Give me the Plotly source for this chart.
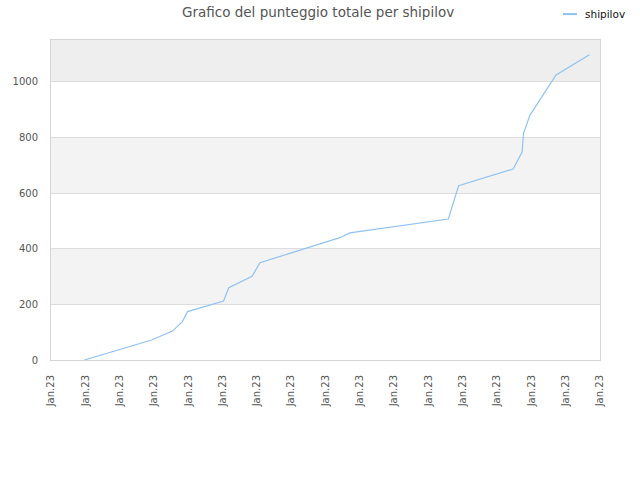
import plotly.graph_objects as go

# positions along the time axis (in tick steps) and total score
x_pos = [0.97, 2.93, 3.54, 3.83, 3.98, 5.03, 5.18, 5.86, 6.09, 8.42, 8.71,
         10.17, 11.58, 11.88, 13.47, 13.73, 13.77, 13.96, 14.72, 15.69]
scores = [0, 72, 104, 138, 174, 212, 260, 301, 350, 440, 457,
          482, 507, 627, 687, 748, 815, 881, 1025, 1098]

tick_pos = list(range(17))
tick_text = ["Jan.23"] * 17
y_ticks = [0, 200, 400, 600, 800, 1000]

line_color = "#90c2f0"

fig = go.Figure(go.Scatter(
    x=x_pos, y=scores, mode="lines", name="shipilov", showlegend=False,
    line=dict(color=line_color, width=1.2),
))

# alternating horizontal bands
bands = [(200, 400, "#f3f3f3"), (600, 800, "#f3f3f3"), (1000, 1160, "#eeeeee")]
for y0, y1, col in bands:
    fig.add_shape(type="rect", xref="paper", yref="y", x0=0, x1=1, y0=y0, y1=y1,
                  fillcolor=col, line_width=0, layer="below")

# small legend in the top right corner
fig.add_shape(type="line", xref="paper", yref="paper", x0=0.9326, x1=0.958,
              y0=1.081, y1=1.081, line=dict(color=line_color, width=2))
fig.add_annotation(text="shipilov", xref="paper", yref="paper", x=0.969, y=1.081,
                   xanchor="left", yanchor="middle", showarrow=False,
                   font=dict(size=10.5, color="#111111"))

fig.update_layout(
    width=640, height=480,
    margin=dict(l=51, r=40, t=40, b=120, autoexpand=False),
    paper_bgcolor="white", plot_bgcolor="white",
    font=dict(family="DejaVu Sans", size=10, color="#555555"),
    title=dict(text="Grafico del punteggio totale per shipilov", x=0.497, y=0.974,
               xanchor="center", yanchor="middle",
               font=dict(size=13.5, color="#555555")),
)
fig.update_xaxes(range=[0, 16], tickmode="array", tickvals=tick_pos, ticktext=tick_text,
                 tickangle=-90, showgrid=False, zeroline=False, automargin=False,
                 showline=True, linecolor="#d6d6d6", mirror=True, ticks="",
                 ticklabelstandoff=10)
fig.update_yaxes(range=[0, 1151], tickvals=y_ticks, showgrid=True, gridcolor="#dddddd",
                 zeroline=False, showline=True, linecolor="#d6d6d6", mirror=True,
                 automargin=False, ticks="", ticklabelstandoff=10)

fig.write_html("out.html", config={"displayModeBar": False},
               post_script="document.body.style.margin='0';")
